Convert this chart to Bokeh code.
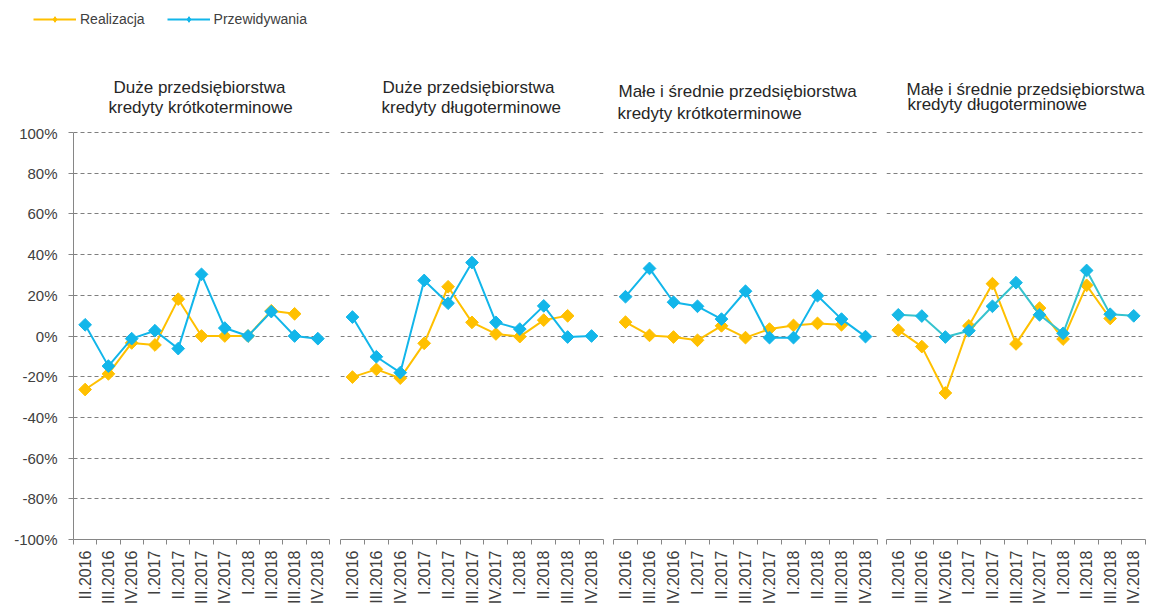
import numpy as np
from bokeh.plotting import figure
from bokeh.models import (Range1d, FixedTicker, PrintfTickFormatter, Legend,
                          LegendItem, Label, ColumnDataSource)
from bokeh.layouts import row, column
from bokeh.embed import file_html
from bokeh.resources import INLINE

# ---------------- data ----------------
quarters = ["II.2016", "III.2016", "IV.2016", "I.2017", "II.2017", "III.2017",
            "IV.2017", "I.2018", "II.2018", "III.2018", "IV.2018"]

series_names = ["Realizacja", "Przewidywania"]

panel_titles = [
    ("Duże przedsiębiorstwa", "kredyty krótkoterminowe"),
    ("Duże przedsiębiorstwa", "kredyty długoterminowe"),
    ("Małe i średnie  przedsiębiorstwa", "kredyty krótkoterminowe"),
    ("Małe i średnie  przedsiębiorstwa", "kredyty długoterminowe"),
]

# values in percent; "Realizacja" has no value for IV.2018
real_duze_krotko = [-26.3, -18.6, -3.4, -4.4, 18.1, 0.0, 0.0, 0.0, 12.4, 10.9]
prog_duze_krotko = [5.5, -14.8, -1.3, 2.6, -6.2, 30.3, 3.9, 0.0, 12.0, 0.0, -1.3]

real_duze_dlugo = [-20.2, -16.4, -20.7, -3.6, 24.2, 6.7, 1.0, -0.3, 7.8, 9.9]
prog_duze_dlugo = [9.3, -10.2, -18.0, 27.3, 16.1, 36.1, 6.7, 3.4, 14.8, -0.5, 0.0]

real_msp_krotko = [6.8, 0.3, -0.5, -2.1, 5.0, -0.8, 3.4, 5.2, 6.2, 5.5]
prog_msp_krotko = [19.3, 33.2, 16.6, 14.6, 8.3, 22.0, -0.8, -0.8, 19.8, 8.3, -0.3]

real_msp_dlugo = [2.9, -5.2, -28.0, 5.0, 25.7, -3.9, 13.7, -1.5, 24.9, 8.6]
prog_msp_dlugo = [10.4, 9.8, -0.5, 2.6, 14.6, 26.2, 10.4, 1.3, 32.2, 10.7, 9.9]

y_ticks = list(range(-100, 101, 20))

# ---------------- geometry / styling ----------------
YELLOW = "#FFC000"
BLUE = "#12B6EA"
FONT = "Liberation Sans"
HEADER_H = 124
PANEL_H = 611 - HEADER_H
BOTTOM = 72
PX_PER_PCT = 407 / 200.0            # -100%..100% spans 407 px
FRAME_H = PANEL_H - BOTTOM
Y_TOP = -100 + FRAME_H / PX_PER_PCT  # small headroom above 100%

panels = [
    dict(real=real_duze_krotko, prog=prog_duze_krotko, width=334, bl=73, br=5,
         tpos=((113, 87), (108, 107)), yaxis=True, pline=BLUE, pmark=BLUE),
    dict(real=real_duze_dlugo, prog=prog_duze_dlugo, width=274, bl=6, br=5,
         tpos=((382, 87), (381, 107)), yaxis=False, pline=BLUE, pmark=BLUE),
    dict(real=real_msp_krotko, prog=prog_msp_krotko, width=273, bl=5, br=4,
         tpos=((618, 91), (617, 113)), yaxis=False, pline=BLUE, pmark=BLUE),
    dict(real=real_msp_dlugo, prog=prog_msp_dlugo, width=266, bl=5, br=2,
         tpos=((906, 89), (907, 104)), yaxis=False, pline="#36C3CE", pmark="#17B8E6"),
]

# ---------------- header (legend + panel titles) ----------------
header = figure(width=1152, height=HEADER_H, x_range=Range1d(0, 1152),
                y_range=Range1d(HEADER_H, 0), output_backend="svg", title=None,
                toolbar_location=None, x_axis_location=None, y_axis_location=None,
                min_border=0)
header.outline_line_color = None
header.xgrid.visible = False
header.ygrid.visible = False

# legend proxies (no visible data points; only used to draw legend glyphs)
proxy = ColumnDataSource(dict(x=[np.nan], y=[np.nan]))
hl_r = header.line("x", "y", source=proxy, line_color=YELLOW, line_width=2)
hs_r = header.scatter("x", "y", source=proxy, marker="diamond", size=11,
                      fill_color=YELLOW, line_color=YELLOW)
hl_p = header.line("x", "y", source=proxy, line_color=BLUE, line_width=2)
hs_p = header.scatter("x", "y", source=proxy, marker="diamond", size=11,
                      fill_color=BLUE, line_color=BLUE)
legend = Legend(items=[LegendItem(label=series_names[0], renderers=[hl_r, hs_r]),
                       LegendItem(label=series_names[1], renderers=[hl_p, hs_p])],
                location=(33, HEADER_H - 27), orientation="horizontal",
                padding=0, margin=0, spacing=22, glyph_width=43, glyph_height=14,
                label_standoff=4, border_line_color=None, background_fill_alpha=0,
                label_text_font=FONT, label_text_font_size="14px",
                label_text_color="#404040")
header.add_layout(legend, "center")

for i, cfg in enumerate(panels):
    for line_txt, (tx, ty) in zip(panel_titles[i], cfg["tpos"]):
        header.add_layout(Label(x=tx, y=ty, text=line_txt, text_baseline="middle",
                                text_align="left", text_font=FONT,
                                text_font_size="17px", text_color="#262626"))

# ---------------- panels ----------------
figs = []
for i, cfg in enumerate(panels):
    p = figure(width=cfg["width"], height=PANEL_H, title=None,
               x_range=Range1d(-0.5, len(quarters) - 0.5),
               y_range=Range1d(-100, Y_TOP),
               output_backend="svg", toolbar_location=None,
               y_axis_location="left" if cfg["yaxis"] else None,
               min_border_left=cfg["bl"], min_border_right=cfg["br"],
               min_border_top=0, min_border_bottom=BOTTOM)
    p.outline_line_color = None

    p.xgrid.visible = False
    p.ygrid.ticker = FixedTicker(ticks=y_ticks)
    p.ygrid.grid_line_color = "#7f7f7f"
    p.ygrid.grid_line_dash = "4 3"
    p.ygrid.grid_line_width = 1

    xa = p.xaxis[0]
    xa.ticker = FixedTicker(ticks=list(range(len(quarters))),
                            minor_ticks=[k - 0.5 for k in range(len(quarters) + 1)])
    xa.major_label_overrides = {k: q for k, q in enumerate(quarters)}
    xa.major_label_orientation = np.pi / 2
    xa.major_tick_line_color = None
    xa.major_tick_out = 0
    xa.major_tick_in = 0
    xa.minor_tick_out = 5
    xa.minor_tick_in = 0
    xa.minor_tick_line_color = "#868686"
    xa.axis_line_color = "#868686"
    xa.major_label_text_font = FONT
    xa.major_label_text_font_size = "16px"
    xa.major_label_text_color = "#404040"
    xa.major_label_standoff = 6

    if cfg["yaxis"]:
        ya = p.yaxis[0]
        ya.ticker = FixedTicker(ticks=y_ticks)
        ya.bounds = (-100, 100)
        ya.formatter = PrintfTickFormatter(format="%d%%")
        ya.major_tick_out = 5
        ya.major_tick_in = 0
        ya.minor_tick_line_color = None
        ya.axis_line_color = "#868686"
        ya.major_tick_line_color = "#868686"
        ya.major_label_text_font = FONT
        ya.major_label_text_font_size = "15px"
        ya.major_label_text_color = "#404040"
        ya.major_label_standoff = 11

    real = cfg["real"]
    prog = cfg["prog"]
    src_r = ColumnDataSource(dict(x=list(range(len(real))), y=real))
    src_p = ColumnDataSource(dict(x=list(range(len(prog))), y=prog))

    p.line("x", "y", source=src_r, line_color=YELLOW, line_width=2)
    p.scatter("x", "y", source=src_r, marker="square", angle=np.pi / 4, size=9,
              fill_color=YELLOW, line_color=YELLOW)
    p.line("x", "y", source=src_p, line_color=cfg["pline"], line_width=2)
    p.scatter("x", "y", source=src_p, marker="square", angle=np.pi / 4, size=9,
              fill_color=cfg["pmark"], line_color=cfg["pmark"])
    figs.append(p)

layout = column(header, row(*figs, spacing=0), spacing=0)
open("out.html", "w").write(file_html(layout, INLINE))
